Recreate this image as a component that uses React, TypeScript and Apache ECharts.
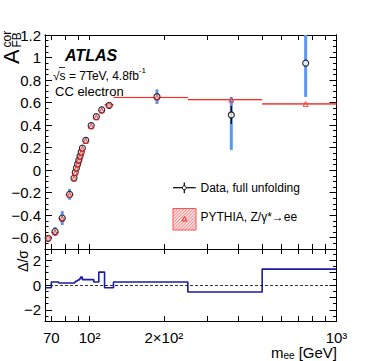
import React, { useEffect, useRef } from "react";
import * as echarts from "echarts";

const FONT = '"Liberation Sans", Arial, Helvetica, sans-serif';

// ---- data (mass bins in GeV) ----
const binLow = [66, 70, 75, 80, 86, 87, 88, 89, 90, 91, 92, 93, 94, 99, 104, 109, 115, 125, 250, 500];
const binHigh = [70, 75, 80, 86, 87, 88, 89, 90, 91, 92, 93, 94, 99, 104, 109, 115, 125, 250, 500, 1000];
const binCenter = [68, 72.5, 77.5, 83, 86.5, 87.5, 88.5, 89.5, 90.5, 91.5, 92.5, 93.5, 96.5, 101.5, 106.5, 112, 120, 187.5, 375, 750];
const afbData = [-0.605, -0.545, -0.425, -0.215, -0.07, -0.02, 0.02, 0.055, 0.09, 0.125, 0.16, 0.195, 0.265, 0.395, 0.475, 0.535, 0.575, 0.652, 0.49, 0.95];
const statErr = [0.006, 0.01, 0.02, 0.015, 0.006, 0.006, 0.006, 0.006, 0.006, 0.006, 0.006, 0.006, 0.01, 0.01, 0.01, 0.01, 0.012, 0.02, 0.08, 0.0];
const totErrUp = [0.02, 0.04, 0.062, 0.048, 0.02, 0.02, 0.02, 0.02, 0.02, 0.02, 0.02, 0.02, 0.03, 0.03, 0.025, 0.03, 0.03, 0.065, 0.16, 0.3];
const totErrDown = [0.02, 0.04, 0.062, 0.048, 0.02, 0.02, 0.02, 0.02, 0.02, 0.02, 0.02, 0.02, 0.03, 0.03, 0.025, 0.03, 0.03, 0.065, 0.31, 0.3];
const afbPythia = [-0.6, -0.552, -0.43, -0.22, -0.073, -0.024, 0.015, 0.05, 0.085, 0.118, 0.152, 0.19, 0.26, 0.39, 0.47, 0.53, 0.58, 0.645, 0.626, 0.588];
const pythiaBand = [0.006, 0.006, 0.006, 0.006, 0.005, 0.005, 0.005, 0.005, 0.005, 0.005, 0.005, 0.005, 0.005, 0.005, 0.005, 0.005, 0.006, 0.006, 0.006, 0.009];

// ratio panel Δ/σ (step histogram)
const pullEdges = [66, 70, 75, 87, 88, 89.5, 91, 92, 93.5, 104, 109, 115, 125, 250, 500, 1000];
const pullValues = [-0.22, 0.24, 0.16, 0.24, 0.32, 0.4, 0.5, 0.64, 0.43, 0.24, 1.04, -0.22, 0.24, -0.56, 1.28];

// axes
const xTickMasses = [70, 80, 90, 100, 200, 300, 400, 500, 600, 700, 800, 900, 1000];
const xLabelMasses = [70, 100, 200, 1000];
const xLabelTexts = ["70", "10²", "2×10²", "10³"];
const yMajor = [-0.6, -0.4, -0.2, 0, 0.2, 0.4, 0.6, 0.8, 1, 1.2];
const pullMajor = [-2, -1, 0, 1, 2];
const Y_MIN = -0.7;
const Y_MAX = 1.2;
const PULL_MIN = -2.9;
const PULL_MAX = 2.9;
const M_MIN = 66;
const M_MAX = 1000;

const lg = (m: number) => Math.log10(m);

const yMinor: number[] = [];
for (let k = -14; k <= 24; k++) yMinor.push(Math.round(k * 5) / 100);
const pullMinor: number[] = [];
for (let k = -5; k <= 5; k++) pullMinor.push(k * 0.5);

function fmtNum(v: number) {
  const r = Math.round(v * 10) / 10;
  if (r === 0) return "0";
  return (r < 0 ? "\u2212" : "") + Math.abs(r).toString();
}

function hatchLines(x0: number, y0: number, x1: number, y1: number, step: number) {
  const out: any[] = [];
  for (let k = x0 + y0 + step / 2; k < x1 + y1; k += step) {
    const xa = Math.max(x0, k - y1);
    const xb = Math.min(x1, k - y0);
    if (xb <= xa) continue;
    out.push({
      type: "line",
      shape: { x1: xa, y1: k - xa, x2: xb, y2: k - xb },
      style: { stroke: "#ff5050", lineWidth: 0.7 },
      silent: true,
    });
  }
  return out;
}

export default function App() {
  const ref = useRef<HTMLDivElement>(null);

  useEffect(() => {
    if (!ref.current) return;
    const chart = echarts.init(ref.current, undefined, { renderer: "svg" });

    const ptData = binCenter.map((c, i) => [lg(c), afbData[i], i]);
    const pyData = binCenter.map((c, i) => [lg(c), afbPythia[i], i]);
    const pullLine: number[][] = [];
    pullValues.forEach((v, i) => {
      pullLine.push([lg(pullEdges[i]), v]);
      pullLine.push([lg(pullEdges[i + 1]), v]);
    });

    const tickStyle = { color: "#000", width: 1 };
    const axisLine = { show: true, onZero: false, lineStyle: { color: "#000", width: 1 } };
    const xTicks = xTickMasses.map(lg);
    const xAx = (gridIndex: number, position: string, labels: boolean) => ({
      type: "value",
      min: lg(M_MIN),
      max: lg(M_MAX),
      splitLine: { show: false },
      axisLine,
      gridIndex,
      position,
      axisTick: { show: true, inside: true, length: 5, customValues: xTicks, lineStyle: tickStyle },
      axisLabel: labels
        ? {
            show: true,
            customValues: xLabelMasses.map(lg),
            formatter: (v: number) => {
              const m = Math.round(Math.pow(10, v));
              const idx = xLabelMasses.indexOf(m);
              return idx >= 0 ? xLabelTexts[idx] : "";
            },
            fontSize: 15,
            lineHeight: 14,
            fontFamily: FONT,
            color: "#000",
            margin: 9,
            showMinLabel: true,
            showMaxLabel: true,
          }
        : { show: false },
    });

    const yAx = (
      gridIndex: number,
      position: string,
      min: number,
      max: number,
      ticks: number[],
      len: number,
      labels: number[] | null
    ) => ({
      type: "value",
      gridIndex,
      position,
      min,
      max,
      splitLine: { show: false },
      axisLine,
      axisTick: { show: true, inside: true, length: len, customValues: ticks, lineStyle: tickStyle },
      axisLabel: labels
        ? {
            show: true,
            customValues: labels,
            formatter: fmtNum,
            fontSize: 15,
            fontFamily: FONT,
            color: "#000",
            margin: 4,
            showMinLabel: true,
            showMaxLabel: true,
          }
        : { show: false },
    });

    const legendBox = { x0: 173, y0: 208.5, x1: 196, y1: 230 };

    const option: any = {
      animation: false,
      backgroundColor: "#fff",
      textStyle: { fontFamily: FONT },
      grid: [
        { left: 45, top: 35, width: 291.5, height: 214, show: false },
        { left: 45, top: 249, width: 291.5, height: 72, show: false },
      ],
      xAxis: [xAx(0, "bottom", false), xAx(0, "top", false), xAx(1, "bottom", true), xAx(1, "top", false)],
      yAxis: [
        yAx(0, "left", Y_MIN, Y_MAX, yMajor, 7, yMajor),
        yAx(0, "left", Y_MIN, Y_MAX, yMinor, 3.5, null),
        yAx(0, "right", Y_MIN, Y_MAX, yMajor, 7, null),
        yAx(0, "right", Y_MIN, Y_MAX, yMinor, 3.5, null),
        yAx(1, "left", PULL_MIN, PULL_MAX, pullMajor, 7, pullMajor),
        yAx(1, "left", PULL_MIN, PULL_MAX, pullMinor, 3.5, null),
        yAx(1, "right", PULL_MIN, PULL_MAX, pullMajor, 7, null),
        yAx(1, "right", PULL_MIN, PULL_MAX, pullMinor, 3.5, null),
      ],
      series: [
        {
          type: "custom",
          name: "pythia band",
          xAxisIndex: 0,
          yAxisIndex: 0,
          z: 1,
          data: pyData,
          encode: { x: 0, y: 1 },
          renderItem: (_p: any, api: any) => {
            const i = api.value(2);
            const a = api.coord([lg(binLow[i]), afbPythia[i] + pythiaBand[i]]);
            const b = api.coord([lg(binHigh[i]), afbPythia[i] - pythiaBand[i]]);
            const l = api.coord([lg(binLow[i]), afbPythia[i]]);
            const r = api.coord([lg(binHigh[i]), afbPythia[i]]);
            return {
              type: "group",
              children: [
                {
                  type: "rect",
                  shape: { x: a[0], y: a[1], width: b[0] - a[0], height: b[1] - a[1] },
                  style: { fill: "rgba(255,90,90,0.35)" },
                },
                {
                  type: "line",
                  shape: { x1: l[0], y1: l[1], x2: r[0], y2: r[1] },
                  style: { stroke: "#ff2b2b", lineWidth: 1.2 },
                },
              ],
            };
          },
        },
        {
          type: "custom",
          name: "errors",
          xAxisIndex: 0,
          yAxisIndex: 0,
          z: 2,
          data: ptData,
          encode: { x: 0, y: 1 },
          renderItem: (_p: any, api: any) => {
            const i = api.value(2);
            const x = lg(binCenter[i]);
            const v = afbData[i];
            const t1 = api.coord([x, Math.min(Y_MAX, v + totErrUp[i])]);
            const t2 = api.coord([x, Math.max(Y_MIN, v - totErrDown[i])]);
            const s1 = api.coord([x, v + statErr[i]]);
            const s2 = api.coord([x, v - statErr[i]]);
            return {
              type: "group",
              children: [
                {
                  type: "line",
                  shape: { x1: t1[0], y1: t1[1], x2: t2[0], y2: t2[1] },
                  style: { stroke: "#5a96f5", lineWidth: 3 },
                },
                {
                  type: "line",
                  shape: { x1: s1[0], y1: s1[1], x2: s2[0], y2: s2[1] },
                  style: { stroke: "#000", lineWidth: 1.3 },
                },
              ],
            };
          },
        },
        {
          type: "scatter",
          name: "Data, full unfolding",
          xAxisIndex: 0,
          yAxisIndex: 0,
          z: 3,
          data: ptData.map((d) => [d[0], d[1]]),
          symbol: "circle",
          symbolSize: 6,
          itemStyle: { color: "#fff", borderColor: "#000", borderWidth: 1.2 },
        },
        {
          type: "scatter",
          name: "PYTHIA",
          xAxisIndex: 0,
          yAxisIndex: 0,
          z: 4,
          data: pyData.map((d) => [d[0], d[1]]),
          symbol: "triangle",
          symbolSize: 5,
          itemStyle: { color: "rgba(255,255,255,0)", borderColor: "#ff2020", borderWidth: 1 },
        },
        {
          type: "line",
          name: "pull",
          xAxisIndex: 2,
          yAxisIndex: 4,
          z: 3,
          data: pullLine,
          symbol: "none",
          lineStyle: { color: "#1c1ca0", width: 1.6 },
          markLine: {
            silent: true,
            symbol: "none",
            label: { show: false },
            lineStyle: { color: "#000", type: [3, 2], width: 0.8 },
            data: [{ yAxis: 0 }],
          },
        },
      ],
      graphic: [
        {
          type: "text",
          x: 65,
          y: 55.5,
          style: {
            text: "ATLAS",
            fontSize: 16,
            fontWeight: "bold",
            fontStyle: "italic",
            fontFamily: FONT,
            fill: "#000",
            verticalAlign: "middle",
          },
        },
        {
          type: "text",
          x: 53,
          y: 74,
          style: {
            text: "{n|√s = 7TeV, 4.8fb}{s|-1}",
            verticalAlign: "middle",
            rich: {
              n: { fontSize: 12, fontFamily: FONT, fill: "#000", lineHeight: 15, verticalAlign: "bottom" },
              s: { fontSize: 8, fontFamily: FONT, fill: "#000", lineHeight: 9, verticalAlign: "top" },
            },
          },
        },
        { type: "line", shape: { x1: 59, y1: 67.5, x2: 65, y2: 67.5 }, style: { stroke: "#000", lineWidth: 0.8 } },
        {
          type: "text",
          x: 55,
          y: 91,
          style: { text: "CC electron", fontSize: 13, fontFamily: FONT, fill: "#000", verticalAlign: "middle" },
        },
        // legend: data
        { type: "line", shape: { x1: 173, y1: 187.7, x2: 195.7, y2: 187.7 }, style: { stroke: "#000", lineWidth: 1.2 } },
        { type: "line", shape: { x1: 184.3, y1: 182.5, x2: 184.3, y2: 193.3 }, style: { stroke: "#000", lineWidth: 1.2 } },
        { type: "circle", shape: { cx: 184.3, cy: 187.7, r: 2 }, style: { fill: "#fff", stroke: "#000", lineWidth: 1 } },
        {
          type: "text",
          x: 200.5,
          y: 187.5,
          style: { text: "Data, full unfolding", fontSize: 12, fontFamily: FONT, fill: "#000", verticalAlign: "middle" },
        },
        // legend: pythia
        {
          type: "rect",
          shape: { x: legendBox.x0, y: legendBox.y0, width: legendBox.x1 - legendBox.x0, height: legendBox.y1 - legendBox.y0 },
          style: { fill: "rgba(255,120,120,0.22)", stroke: "#ff5050", lineWidth: 1 },
        },
        ...hatchLines(legendBox.x0, legendBox.y0, legendBox.x1, legendBox.y1, 3.2),
        {
          type: "polygon",
          shape: { points: [[184.5, 216.5], [187, 221], [182, 221]] },
          style: { fill: "none", stroke: "#ff2020", lineWidth: 1 },
        },
        {
          type: "text",
          x: 200.5,
          y: 217,
          style: { text: "PYTHIA, Z/γ*→ee", fontSize: 12, fontFamily: FONT, fill: "#000", verticalAlign: "middle" },
        },
        // y-axis title (rotated): A_FB^cor
        {
          type: "group",
          x: 0,
          y: 64,
          rotation: Math.PI / 2,
          children: [
            { type: "text", x: 0, y: 11, style: { text: "A", fontSize: 22, fontFamily: FONT, fill: "#000", verticalAlign: "middle" } },
            { type: "text", x: 16.5, y: 7, style: { text: "cor", fontSize: 12, fontFamily: FONT, fill: "#000", verticalAlign: "middle" } },
            { type: "text", x: 16.5, y: 17, style: { text: "FB", fontSize: 12, fontFamily: FONT, fill: "#000", verticalAlign: "middle" } },
          ],
        },
        // ratio y title
        {
          type: "text",
          x: 23,
          y: 261,
          rotation: Math.PI / 2,
          style: { text: "Δ/σ", fontSize: 14, fontFamily: FONT, fill: "#000", align: "center", verticalAlign: "middle" },
        },
        // x title m_ee [GeV]
        { type: "text", x: 271, y: 352, style: { text: "m", fontSize: 15, lineHeight: 13, fontFamily: FONT, fill: "#000", verticalAlign: "middle" } },
        { type: "text", x: 283.5, y: 355.5, style: { text: "ee", fontSize: 10, lineHeight: 9, fontFamily: FONT, fill: "#000", verticalAlign: "middle" } },
        {
          type: "text",
          x: 337,
          y: 352,
          style: { text: "[GeV]", fontSize: 15, lineHeight: 13, fontFamily: FONT, fill: "#000", align: "right", verticalAlign: "middle" },
        },
      ],
    };

    chart.setOption(option);
    return () => chart.dispose();
  }, []);

  return (
    <div
      ref={ref}
      style={{ position: "fixed", left: 0, top: 0, width: 374, height: 361, background: "#fff" }}
    />
  );
}
